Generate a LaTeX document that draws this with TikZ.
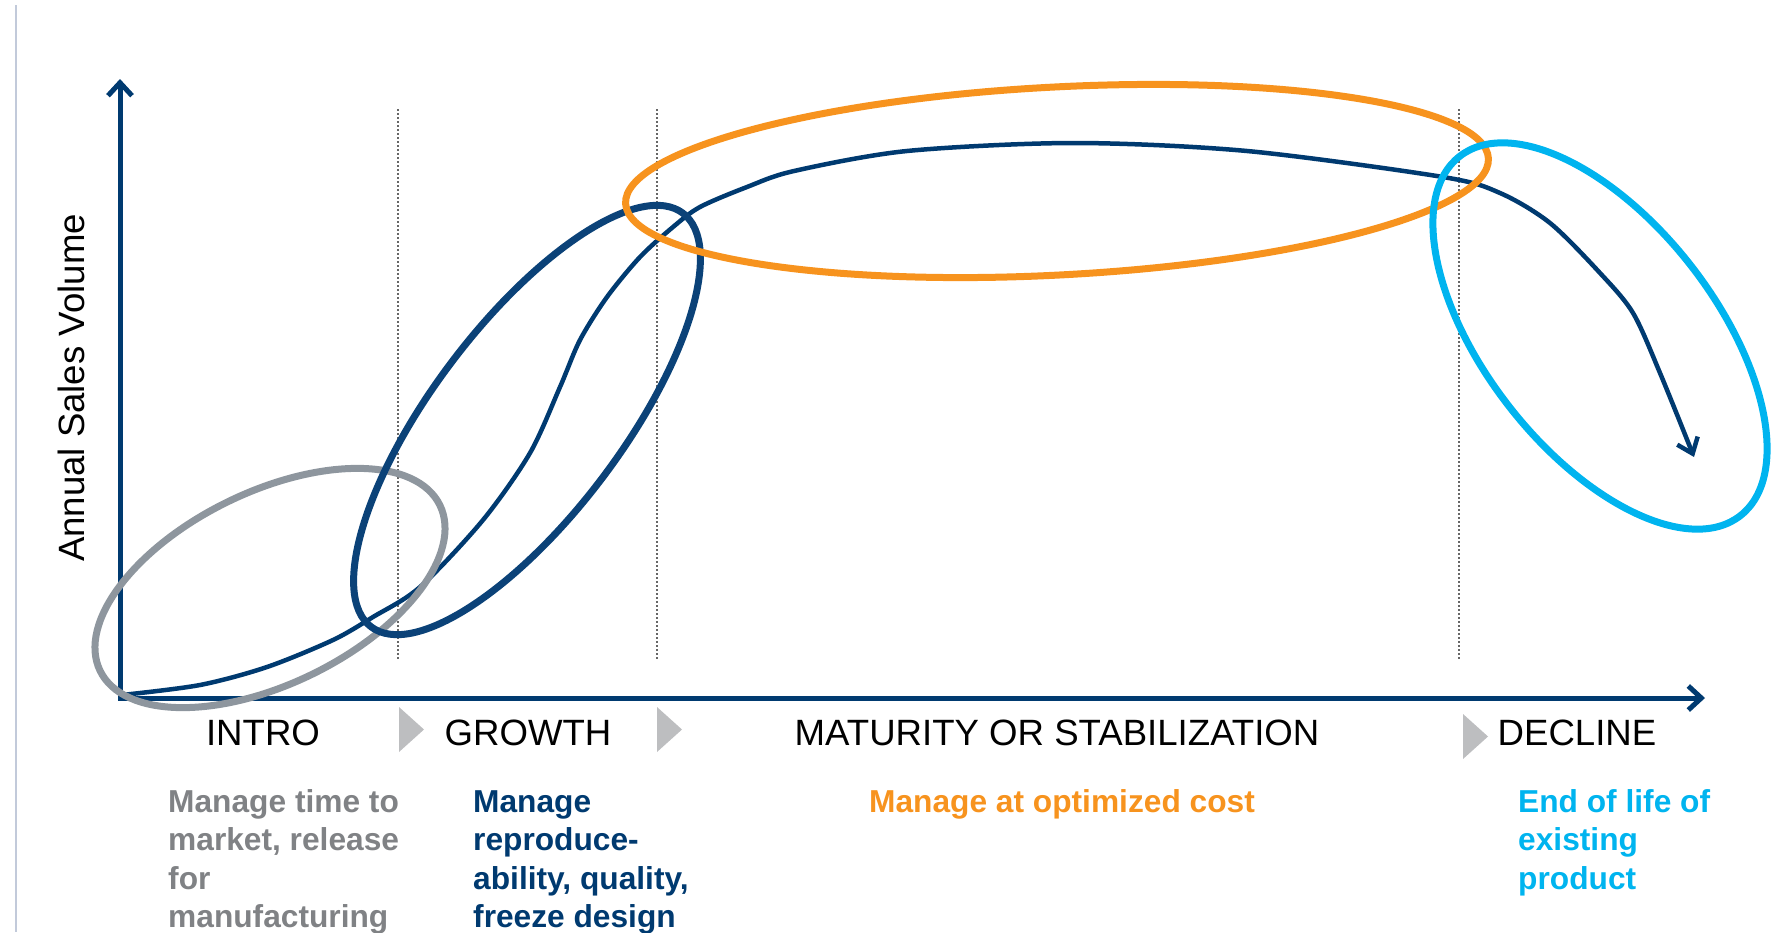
\documentclass[tikz,border=0pt]{standalone}
\usepackage{fontspec}
\setmainfont{Liberation Sans}
\usepackage{xcolor}
\usetikzlibrary{arrows.meta}

\definecolor{navy}{HTML}{003A70}
\definecolor{loopnavy}{HTML}{0B4278}
\definecolor{introgrey}{HTML}{8E969E}
\definecolor{notegrey}{HTML}{808285}
\definecolor{maturorange}{HTML}{F7931E}
\definecolor{declinecyan}{HTML}{00B4EF}
\definecolor{markgrey}{HTML}{BDBEC0}
\definecolor{framegrey}{HTML}{C2CADA}

\newcommand{\headfont}{\fontsize{36.6}{44}\selectfont}
\newcommand{\notefont}{\fontsize{31.7}{38.5}\selectfont\bfseries}

\begin{document}
\begin{tikzpicture}[x=1pt,y=-1pt,
    axis/.style={line width=5pt, navy,
        {Straight Barb[length=13pt,width=24pt]}-{Straight Barb[length=13pt,width=24pt]}},
    phase/.style={font=\headfont, inner sep=0pt, anchor=base},
    note/.style={font=\notefont, inner sep=0pt, anchor=base west, align=left},
    loopline/.style={line width=7pt},
    divider/.style={black!60, line width=1.8pt, dash pattern=on 2pt off 2pt}]
    \useasboundingbox (0,0) rectangle (1778,932);

    % Frame edge
    \draw[framegrey, line width=1.5pt] (16,5) -- (16,932);

    % Axes
    \coordinate (ytip) at (120,79);
    \coordinate (xtip) at (1705,698);
    \draw[axis] (ytip) |- (xtip);
    \node[rotate=90, font=\headfont, inner sep=0pt] (ylabel) at (71,388) {Annual Sales Volume};

    % Phase dividers
    \foreach \x in {398,657,1459}
        \draw[divider] (\x,109) -- (\x,660);

    % Phase markers
    \foreach \x/\y in {399/707,657/707,1463/714}
        \fill[markgrey] (\x,\y) -- ++(25,22.5) -- ++(-25,22.5) -- cycle;

    % Sales curve
    \draw[navy, line width=4.5pt, -{Straight Barb[length=14pt,width=22pt]}]
        plot[smooth] coordinates {(122,695) (200,685) (267,667) (333,640) (373,617)
        (420,587) (483,520) (530,453) (560,387) (580,340) (607,297) (640,257)
        (673,227) (700,207) (747,187) (794,171) (907,151) (1074,143) (1247,151)
        (1443,177) (1500,193) (1550,223) (1600,273) (1633,313) (1660,373) (1694,457)};

    % Phase loops
    \draw[loopline, introgrey, rotate around={26:(270,588)}] (270,588) ellipse [x radius=189, y radius=96];
    \draw[loopline, loopnavy, rotate around={53:(527,420)}] (527,420) ellipse [x radius=259, y radius=95];
    \draw[loopline, maturorange, rotate around={3:(1057,181)}] (1057,181) ellipse [x radius=432, y radius=94];
    \draw[loopline, declinecyan, rotate around={-52:(1600,336)}] (1600,336) ellipse [x radius=228, y radius=115];

    % Phase names
    \node[phase] (intro) at (263,745) {INTRO};
    \node[phase] (growth) at (528,745) {GROWTH};
    \node[phase] (maturity) at (1057,745) {MATURITY OR STABILIZATION};
    \node[phase] (decline) at (1577,745) {DECLINE};

    % Phase notes (placed by the baseline of their last line)
    \node[note, notegrey] (intronote) at (168,927.5) {Manage time to\\market, release\\for\\manufacturing};
    \node[note, navy] (growthnote) at (473,927.5) {Manage\\reproduce-\\ability, quality,\\freeze design};
    \node[note, maturorange, anchor=base] (maturitynote) at (1062,812) {Manage at optimized cost};
    \node[note, declinecyan] (declinenote) at (1518,889) {End of life of\\existing\\product};
\end{tikzpicture}
\end{document}
